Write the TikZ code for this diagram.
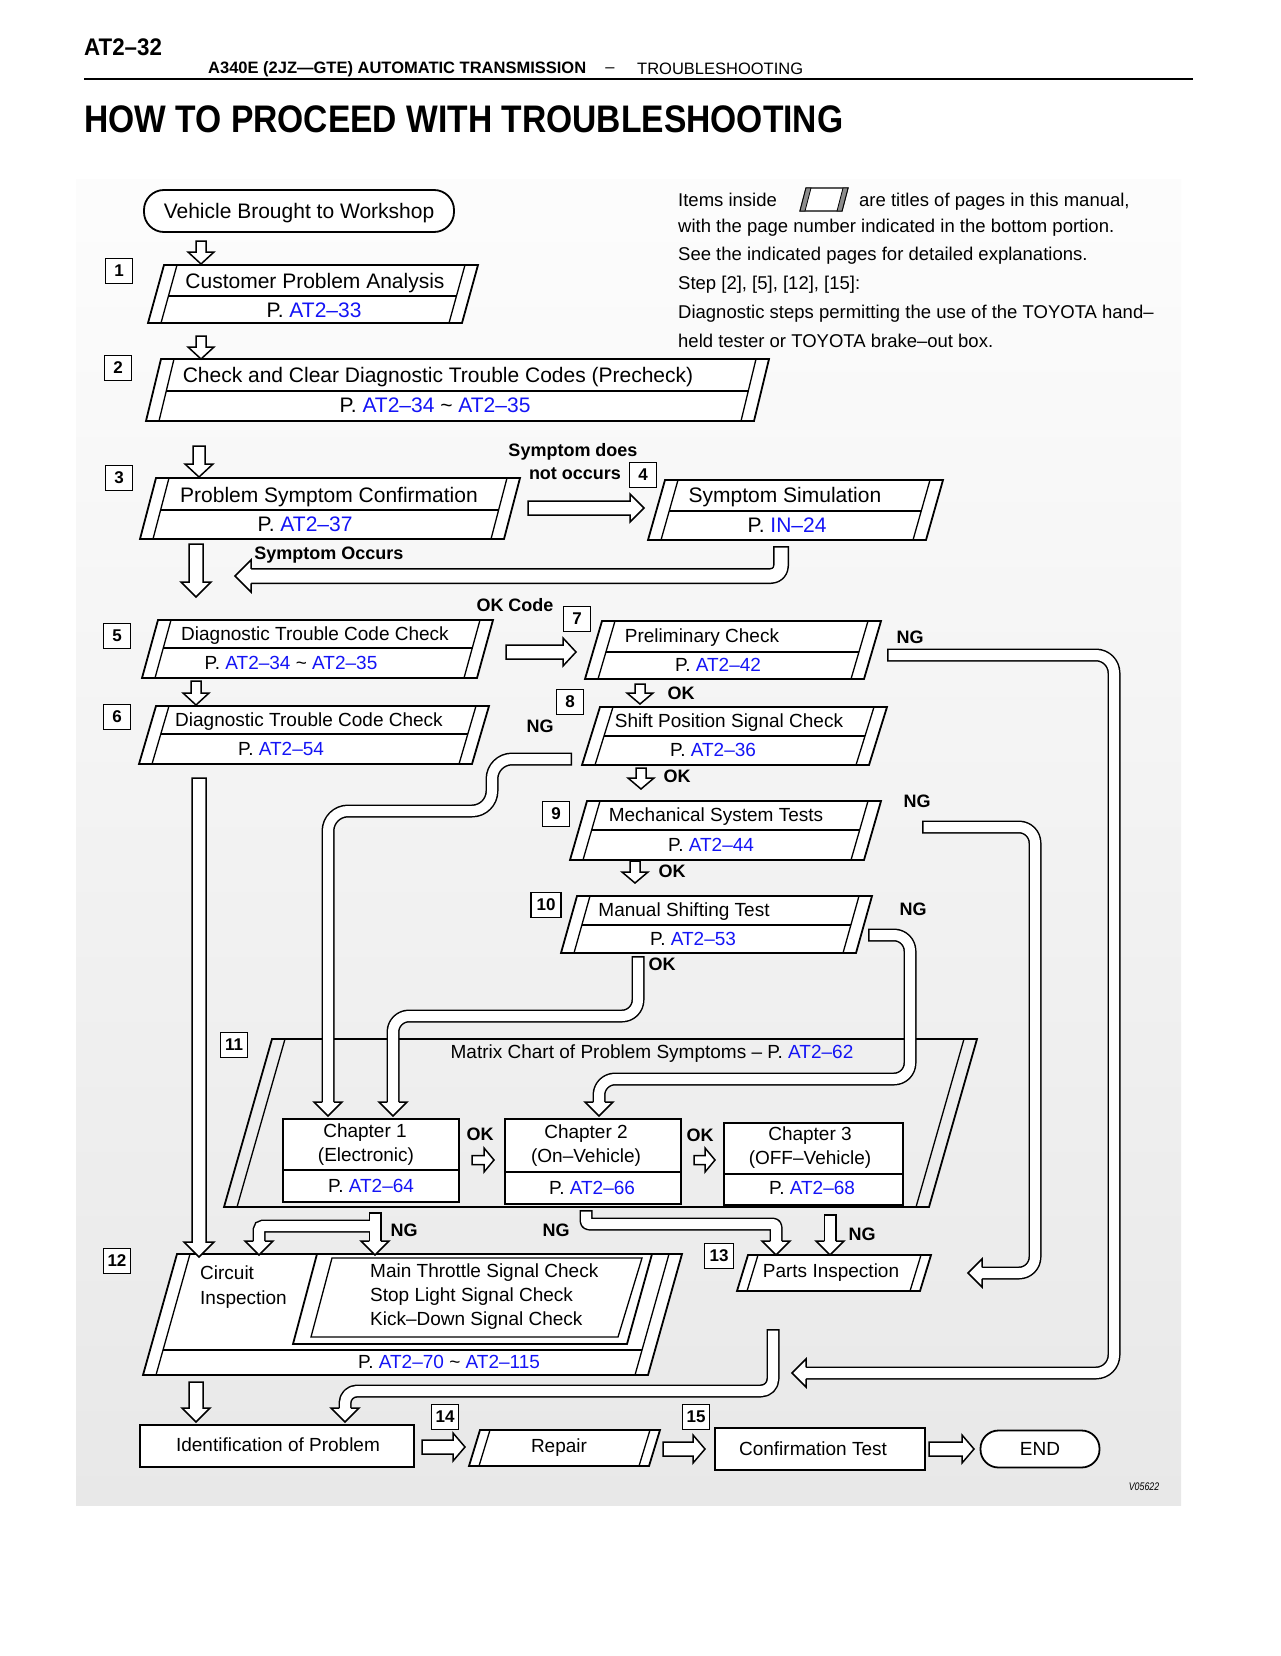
\documentclass[tikz,border=0pt]{standalone}
\usepackage{fontspec}
\setmainfont{Liberation Sans}
\usepackage{graphicx}
\usetikzlibrary{calc}
\definecolor{lnk}{RGB}{20,20,245}
\newcommand\lk[1]{\textcolor{lnk}{#1}}
\newcommand\tld{\textasciitilde}
\tikzset{
 boxline/.style={line width=1.8pt, line join=miter},
 stripline/.style={line width=1.3pt},
 arrline/.style={line width=1.5pt, fill=white, line join=miter},
 pbf/.style={fill=white},
 tA/.style={font=\fontsize{21}{25}\selectfont, inner sep=0pt, text height=15pt, text depth=0pt},
 tB/.style={font=\fontsize{19}{23}\selectfont, inner sep=0pt, text height=13.7pt, text depth=0pt},
 tL/.style={font=\fontsize{18.5}{22}\selectfont, inner sep=0pt, anchor=west, text height=13.3pt, text depth=0pt},
 lab/.style={font=\bfseries\fontsize{18}{22}\selectfont, inner sep=0pt, text height=13pt, text depth=0pt},
 stepbox/.style={draw, line width=1.5pt, fill=white, minimum width=27pt, minimum height=25pt, inner sep=0pt, font=\bfseries\fontsize{17}{20}\selectfont},
 chbox/.style={draw, line width=1.6pt, fill=white},
}
% parallelogram box: name, xTL, xTR, yT, yB, slant, strip, divider y (0 = none)
\newcommand\pbox[8]{%
 \filldraw[boxline,pbf] (#2,#4) -- (#3,#4) -- (#3-#6,#5) -- (#2-#6,#5) -- cycle;
 \draw[stripline] (#2+#7,#4) -- (#2+#7-#6,#5) (#3-#7,#4) -- (#3-#7-#6,#5);
 \ifnum#8>0\relax
  \pgfmathsetmacro\pbfr{(#8-#4)/(#5-#4)}%
  \draw[stripline] ($(#2+#7,#4)!\pbfr!(#2+#7-#6,#5)$) -- ($(#3-#7,#4)!\pbfr!(#3-#7-#6,#5)$);%
 \fi
 \pgfmathsetmacro\pbw{#3-#2+#6}\pgfmathsetmacro\pbh{#5-#4}%
 \node[inner sep=0pt, minimum width=\pbw pt, minimum height=\pbh pt] (#1) at ({(#2+#3-#6)/2},{(#4+#5)/2}) {};
}
% block arrows: down: x, ytop, ytip, shaft half, head half, head length
\newcommand\barrD[6]{\filldraw[arrline] (#1-#4,#2) -- (#1-#4,#3-#6) -- (#1-#5,#3-#6) -- (#1,#3) -- (#1+#5,#3-#6) -- (#1+#4,#3-#6) -- (#1+#4,#2) -- cycle;}
% right: y, xstart, xtip, shaft half, head half, head length
\newcommand\barrR[6]{\filldraw[arrline] (#2,#1-#4) -- (#3-#6,#1-#4) -- (#3-#6,#1-#5) -- (#3,#1) -- (#3-#6,#1+#5) -- (#3-#6,#1+#4) -- (#2,#1+#4) -- cycle;}
% pipes: [width]{radius}{path}
\newcommand\pipe[3][13]{\draw[line width=#1pt, rounded corners=#2pt, line join=round] #3; \draw[white, line width=#1pt-3pt, rounded corners=#2pt, line join=round, shorten <=1.5pt] #3;}
% heads: [pipe width]{x}{tip y}{head half}
\newcommand\headD[4][13]{\filldraw[arrline] (#2-#1/2+0.75,#3-#4) -- (#2-#4,#3-#4) -- (#2,#3) -- (#2+#4,#3-#4) -- (#2+#1/2-0.75,#3-#4);}
\newcommand\headL[4][13]{\filldraw[arrline] (#2+#4,#3-#1/2+0.75) -- (#2+#4,#3-#4) -- (#2,#3) -- (#2+#4,#3+#4) -- (#2+#4,#3+#1/2-0.75);}
\begin{document}
\begin{tikzpicture}[x=1pt,y=-1pt]
\useasboundingbox (0,0) rectangle (1280,1656);
\fill[white] (0,0) rectangle (1280,1656);
\shade[top color=black!1, bottom color=black!9] (76,180) rectangle (1181,1505);

% header
\node[anchor=west, inner sep=0pt, font=\bfseries\fontsize{24}{26}\selectfont] (pg) at (84,47) {\scalebox{0.93}[1]{AT2–32}};
\node[anchor=west, inner sep=0pt, font=\bfseries\fontsize{16.5}{18}\selectfont] (sec) at (208,69) {A340E (2JZ—GTE) AUTOMATIC TRANSMISSION};
\node[inner sep=0pt, font=\fontsize{16.5}{18}\selectfont] (dsh) at (610,70) {–};
\node[anchor=west, inner sep=0pt, font=\fontsize{16.5}{18}\selectfont] (sub) at (637,69) {TROUBLESHOOTING};
\draw[line width=2pt] (84,79) -- (1193,79);
\node[anchor=west, inner sep=0pt, font=\bfseries\fontsize{38.4}{40}\selectfont] (title) at (84,119) {\scalebox{0.875}[1]{HOW TO PROCEED WITH TROUBLESHOOTING}};

% legend
\node[tL] (lg1) at (678,200) {Items inside};
\filldraw[line width=1.2pt, fill=white] (806,188) -- (848,188) -- (842,211) -- (800,211) -- cycle;
\filldraw[line width=0.8pt, fill=black!45] (806,188) -- (811,188) -- (805,211) -- (800,211) -- cycle;
\filldraw[line width=0.8pt, fill=black!45] (843,188) -- (848,188) -- (842,211) -- (837,211) -- cycle;
\node[tL] (lg2) at (859,200) {are titles of pages in this manual,};
\node[tL] (lg3) at (678,226) {with the page number indicated in the bottom portion.};
\node[tL] (lg4) at (678,254) {See the indicated pages for detailed explanations.};
\node[tL] (lg5) at (678,283) {Step [2], [5], [12], [15]:};
\node[tL] (lg6) at (678,312) {Diagnostic steps permitting the use of the TOYOTA hand–};
\node[tL] (lg7) at (678,341) {held tester or TOYOTA brake–out box.};

% start
\node[draw, line width=1.8pt, rounded corners=20pt, minimum width=310pt, minimum height=42pt, fill=white, tA] (veh) at (299,211) {Vehicle Brought to Workshop};

% boxes
\pbox{b1}{164}{478}{265}{323}{16}{13}{296}
\node[tA] (b1t) at (315,281) {Customer Problem Analysis};
\node[tA] (b1p) at (314,310) {P. \lk{AT2–33}};
\pbox{b2}{161}{769}{359}{421}{15}{13}{391}
\node[tA] (b2t) at (438,375) {Check and Clear Diagnostic Trouble Codes (Precheck)};
\node[tA] (b2p) at (435,405) {P. \lk{AT2–34} \tld{} \lk{AT2–35}};
\pbox{b3}{156}{520}{478}{539}{16}{13}{510}
\node[tA] (b3t) at (329,495) {Problem Symptom Confirmation};
\node[tA] (b3p) at (305,524) {P. \lk{AT2–37}};
\pbox{b4}{665}{943}{480}{540}{17}{13}{511}
\node[tA] (b4t) at (785,495) {Symptom Simulation};
\node[tA] (b4p) at (787,525) {P. \lk{IN–24}};
\pbox{b5}{158}{493}{620}{678}{16}{13}{648}
\node[tB] (b5t) at (315,634) {Diagnostic Trouble Code Check};
\node[tB] (b5p) at (291,663) {P. \lk{AT2–34} \tld{} \lk{AT2–35}};
\pbox{b6}{156}{489}{706}{764}{17}{13}{734}
\node[tB] (b6t) at (309,720) {Diagnostic Trouble Code Check};
\node[tB] (b6p) at (281,749) {P. \lk{AT2–54}};
\pbox{b7}{602}{881}{621}{679}{17}{13}{652}
\node[tB] (b7t) at (702,636) {Preliminary Check};
\node[tB] (b7p) at (718,665) {P. \lk{AT2–42}};
\pbox{b8}{600}{887}{707}{765}{18}{13}{736}
\node[tB] (b8t) at (729,721) {Shift Position Signal Check};
\node[tB] (b8p) at (713,750) {P. \lk{AT2–36}};
\pbox{b9}{587}{881}{801}{860}{17}{13}{830}
\node[tB] (b9t) at (716,815) {Mechanical System Tests};
\node[tB] (b9p) at (711,845) {P. \lk{AT2–44}};
\pbox{b10}{577}{872}{896}{953}{16}{13}{925}
\node[tB] (b10t) at (684,910) {Manual Shifting Test};
\node[tB] (b10p) at (693,939) {P. \lk{AT2–53}};
\begin{scope}[pbf/.style={fill=none}]
\pbox{b11}{272}{977}{1039}{1207}{48}{13}{0}
\end{scope}
\node[tB] (b11t) at (652,1052) {Matrix Chart of Problem Symptoms – P. \lk{AT2–62}};
\pbox{b13}{748}{931}{1255}{1291}{11}{10}{0}
\node[tB] (b13t) at (831,1271) {Parts Inspection};
\pbox{b14}{480}{660}{1430}{1466}{11}{10}{0}
\node[tB] (b14t) at (559,1446) {Repair};

% chapter boxes
\node[chbox, minimum width=176pt, minimum height=83pt] (ch1) at (371,1160.5) {};
\draw[stripline] (283,1170) -- (459,1170);
\node[tB] (ch1a) at (365,1131) {Chapter 1};
\node[tB] (ch1b) at (366,1155) {(Electronic)};
\node[tB] (ch1c) at (371,1186) {P. \lk{AT2–64}};
\node[chbox, minimum width=176pt, minimum height=85pt] (ch2) at (593,1161.5) {};
\draw[stripline] (505,1172) -- (681,1172);
\node[tB] (ch2a) at (586,1132) {Chapter 2};
\node[tB] (ch2b) at (586,1156) {(On–Vehicle)};
\node[tB] (ch2c) at (592,1188) {P. \lk{AT2–66}};
\node[chbox, minimum width=179pt, minimum height=82pt] (ch3) at (813.5,1164) {};
\draw[stripline] (724,1174) -- (903,1174);
\node[tB] (ch3a) at (810,1134) {Chapter 3};
\node[tB] (ch3b) at (810,1158) {(OFF–Vehicle)};
\node[tB] (ch3c) at (812,1188) {P. \lk{AT2–68}};

% box 12
\filldraw[boxline, fill=white] (177,1254) -- (682,1254) -- (648,1375) -- (143,1375) -- cycle;
\draw[stripline] (190,1254) -- (156,1375) (669,1254) -- (635,1375);
\draw[stripline] (163,1350) -- (642,1350);
\draw[boxline] (317,1254) -- (293,1344) -- (627,1344) -- (652,1254);
\draw[stripline] (332,1258) -- (642,1258) -- (618,1337) -- (311,1337) -- cycle;
\node[inner sep=0pt, minimum width=539pt, minimum height=121pt] (b12) at (412.5,1314.5) {};
\node[tB, anchor=west] (b12a) at (200,1273) {Circuit};
\node[tB, anchor=west] (b12b) at (200,1298) {Inspection};
\node[tB, anchor=west] (b12c) at (370,1271) {Main Throttle Signal Check};
\node[tB, anchor=west] (b12d) at (370,1295) {Stop Light Signal Check};
\node[tB, anchor=west] (b12e) at (370,1319) {Kick–Down Signal Check};
\node[tB] (b12p) at (449,1362) {P. \lk{AT2–70} \tld{} \lk{AT2–115}};

% bottom row
\node[draw, line width=2pt, fill=white, minimum width=274pt, minimum height=42pt] (idp) at (277,1446) {};
\node[tB] (idpt) at (278,1445) {Identification of Problem};
\node[draw, line width=2pt, fill=white, minimum width=210pt, minimum height=42pt] (conf) at (820,1449) {};
\node[tB] (conft) at (813,1449) {Confirmation Test};
\node[draw, line width=1.8pt, rounded corners=18pt, minimum width=119pt, minimum height=37pt, fill=white, tB] (endn) at (1040,1449) {END};
\node[inner sep=0pt, font=\itshape\fontsize{11}{12}\selectfont] (vid) at (1144,1487) {\scalebox{0.8}[1]{V05622}};

% step labels
\node[stepbox] (s1) at (119,271) {1};
\node[stepbox] (s2) at (118,368) {2};
\node[stepbox] (s3) at (119,478) {3};
\node[stepbox] (s4) at (643,475) {4};
\node[stepbox] (s5) at (117,636) {5};
\node[stepbox] (s6) at (117,717) {6};
\node[stepbox] (s7) at (577,619) {7};
\node[stepbox] (s8) at (570,702) {8};
\node[stepbox] (s9) at (556,814) {9};
\node[stepbox, minimum width=30pt] (s10) at (546,905) {10};
\node[stepbox] (s11) at (234,1045) {11};
\node[stepbox] (s12) at (117,1261) {12};
\node[stepbox, minimum width=29pt] (s13) at (719,1256) {13};
\node[stepbox] (s14) at (445,1417) {14};
\node[stepbox] (s15) at (696,1417) {15};

% short block arrows
\barrD{201}{241}{264}{5}{13}{12}
\barrD{201}{336}{359}{5}{13}{12}
\barrD{199}{446}{477}{6}{14}{13}
\barrD{196}{544}{597}{7}{15}{15}
\barrD{196}{681}{705}{5}{13}{12}
\barrD{640}{684}{704}{5}{13}{11}
\barrD{641}{768}{789}{5}{13}{11}
\barrD{635}{861}{883}{5}{13}{11}
\barrD{199}{778}{1257}{7}{15}{15}
\barrD{196}{1382}{1422}{7}{14}{14}
\barrR{508}{528}{644}{7}{14}{14}
\barrR{652}{506}{576}{7}{14}{13}
\barrR{1160}{472}{494}{4.5}{12}{10}
\barrR{1160}{694}{715}{4.5}{12}{10}
\barrR{1447}{422}{465}{7}{14}{12}
\barrR{1449}{663}{705}{7}{14}{12}
\barrR{1449}{929}{974}{7}{14}{12}

% pipes
\pipe[16]{10}{(781,546) -- (781,576) -- (251,576)}
\headL[16]{235}{576}{16}
\pipe{18}{(887,655) -- (1114,655) -- (1114,1373) -- (806,1373)}
\headL{792}{1373}{14}
\pipe{16}{(922,827) -- (1035,827) -- (1035,1273) -- (982,1273)}
\headL{968}{1273}{14}
\pipe{16}{(868,935) -- (910,935) -- (910,1079) -- (599,1079) -- (599,1102)}
\headD{599}{1116}{14}
\pipe{16}{(638,956) -- (638,1016) -- (393,1016) -- (393,1102)}
\headD{393}{1116}{14}
\pipe{20}{(572,759) -- (492,759) -- (492,811) -- (328,811) -- (328,1102)}
\headD{328}{1116}{14}
% T branch from chapter 1
\draw[line width=13pt] (375,1212) -- (375,1241);
\draw[line width=13pt, rounded corners=4pt] (375,1226) -- (259,1226) -- (259,1241);
\draw[white, line width=10pt, shorten <=1.5pt] (375,1212) -- (375,1241);
\draw[white, line width=10pt, rounded corners=4pt] (375,1226) -- (259,1226) -- (259,1241);
\headD{375}{1255}{14}
\headD{259}{1255}{14}
\pipe{3}{(586,1210) -- (586,1224) -- (776,1224) -- (776,1241)}
\headD{776}{1255}{14}
\pipe{3}{(830,1214) -- (830,1241)}
\headD{830}{1255}{14}
\pipe{12}{(773,1329) -- (773,1391) -- (345,1391) -- (345,1408)}
\headD{345}{1422}{14}

% labels
\node[lab] (l1) at (573,450) {Symptom does};
\node[lab] (l2) at (575,473) {not occurs};
\node[lab] (l3) at (329,553) {Symptom Occurs};
\node[lab] (l4) at (515,605) {OK Code};
\node[lab] (ng7) at (910,637) {NG};
\node[lab] (ng8) at (540,726) {NG};
\node[lab] (ng9) at (917,801) {NG};
\node[lab] (ng10) at (913,909) {NG};
\node[lab] (ngc1) at (404,1230) {NG};
\node[lab] (ngc2) at (556,1230) {NG};
\node[lab] (ngc3) at (862,1234) {NG};
\node[lab] (ok7) at (681,693) {OK};
\node[lab] (ok8) at (677,776) {OK};
\node[lab] (ok9) at (672,871) {OK};
\node[lab] (ok10) at (662,964) {OK};
\node[lab] (okc1) at (480,1134) {OK};
\node[lab] (okc2) at (700,1135) {OK};
\end{tikzpicture}
\end{document}
